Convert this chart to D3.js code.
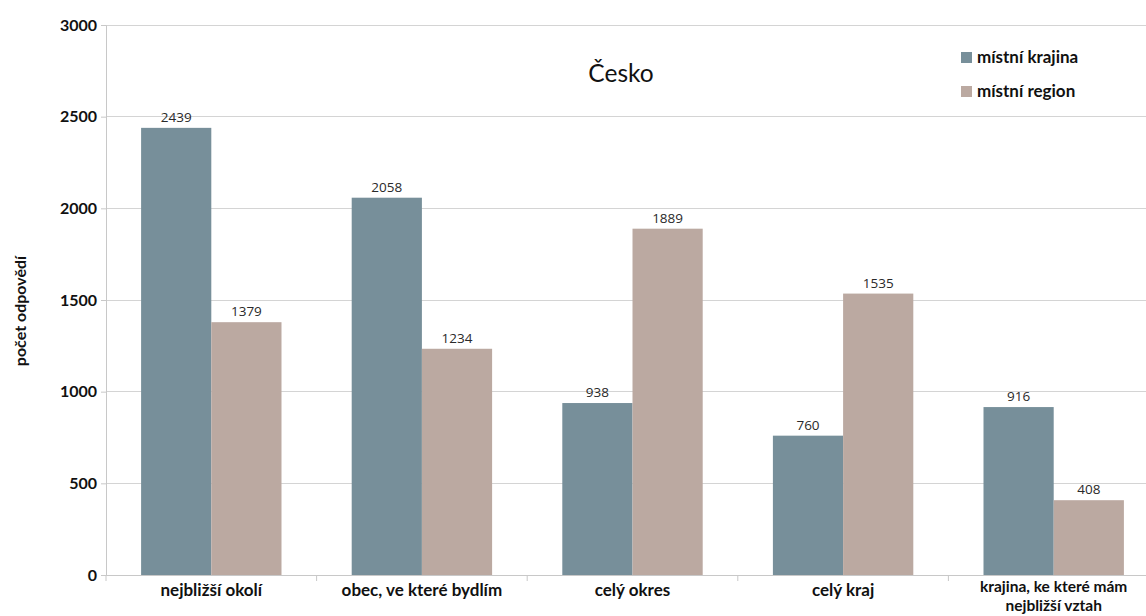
<!DOCTYPE html>
<html><head><meta charset="utf-8">
<script src="https://cdn.jsdelivr.net/npm/d3@7/dist/d3.min.js"></script>
<style>body{margin:0;background:#fff}svg{display:block}</style>
</head><body>
<svg id="c" width="1146" height="616"></svg>
<script>
const categories = ["nejbližší okolí","obec, ve které bydlím","celý okres","celý kraj","krajina, ke které mám\nnejbližší vztah"];
const seriesNames = ["místní krajina","místní region"];
const krajina = [2439,2058,938,760,916];
const region = [1379,1234,1889,1535,408];
const yTicks = [0,500,1000,1500,2000,2500,3000];
const colors = ["#778f9a","#bba9a1"];

const svg = d3.select("#c");
const mLeft = 106, mTop = 25, mBottom = 575, mRight = 1159;
const x0 = d3.scaleBand().domain(d3.range(categories.length)).range([mLeft,mRight]).paddingInner(0).paddingOuter(0);
const x1 = d3.scaleBand().domain([0,1]).range([x0.bandwidth()/6, x0.bandwidth()*5/6]);
const y = d3.scaleLinear().domain([0,3000]).range([mBottom,mTop]);
const font = "Lato, 'Open Sans', sans-serif";

// gridlines
svg.append("g").selectAll("line").data(yTicks.filter(d=>d>0)).join("line")
  .attr("x1",mLeft).attr("x2",1146).attr("y1",d=>y(d)).attr("y2",d=>y(d))
  .attr("stroke","#d4d4d4").attr("stroke-width",1).attr("shape-rendering","crispEdges");

// y axis
const ya = svg.append("g").attr("transform",`translate(${mLeft},0)`)
  .call(d3.axisLeft(y).tickValues(yTicks).tickFormat(d3.format("d")).tickSize(5).tickPadding(4));
ya.select(".domain").attr("stroke","#c8c8c8");
ya.selectAll(".tick line").attr("stroke","#c8c8c8");
ya.selectAll("text").attr("font-family",font).attr("font-weight","bold").attr("font-size","16px").attr("fill","#111");

// bars
const data = categories.map((c,i)=>[krajina[i],region[i]]);
const groups = svg.append("g").selectAll("g").data(data).join("g")
  .attr("transform",(d,i)=>`translate(${x0(i)},0)`);
groups.selectAll("rect").data(d=>d).join("rect")
  .attr("x",(d,j)=>x1(j)).attr("width",x1.bandwidth())
  .attr("y",d=>y(d)).attr("height",d=>mBottom-y(d))
  .attr("fill",(d,j)=>colors[j]);
groups.selectAll("text").data(d=>d).join("text")
  .attr("x",(d,j)=>x1(j)+x1.bandwidth()/2).attr("y",d=>y(d)-6)
  .attr("text-anchor","middle").attr("font-family","'Open Sans', sans-serif")
  .attr("font-size","13.5px").attr("fill","#2a2a2a").text(d=>d);

// x axis
const xa = svg.append("g").attr("transform",`translate(0,${mBottom})`);
xa.append("line").attr("x1",mLeft).attr("x2",1146).attr("y1",0.5).attr("y2",0.5).attr("stroke","#c8c8c8");
xa.selectAll("line.t").data(d3.range(categories.length+1)).join("line").attr("class","t")
  .attr("x1",i=>mLeft+i*x0.bandwidth()).attr("x2",i=>mLeft+i*x0.bandwidth())
  .attr("y1",0).attr("y2",6).attr("stroke","#c8c8c8");
xa.selectAll("g.lab").data(categories).join("g").attr("class","lab")
  .each(function(d,i){
    const g=d3.select(this);
    const lines=d.split("\n");
    const multi=lines.length>1;
    lines.forEach((s,k)=>g.append("text")
      .attr("x",x0(i)+x0.bandwidth()/2)
      .attr("y",multi?17+k*19:21)
      .attr("text-anchor","middle").attr("font-family",font).attr("font-weight","bold")
      .attr("font-size",multi?"15.5px":"17px").attr("fill","#111").text(s));
  });

// y label
svg.append("text").attr("transform","translate(26,311) rotate(-90)")
  .attr("text-anchor","middle").attr("font-family",font).attr("font-weight","bold")
  .attr("font-size","16px").attr("fill","#111").text("počet odpovědí");

// title
svg.append("text").attr("x",621).attr("y",82).attr("text-anchor","middle")
  .attr("font-family",font).attr("font-size","24.5px").attr("fill","#111").text("Česko");

// legend
const lg = svg.append("g").selectAll("g").data(seriesNames).join("g")
  .attr("transform",(d,i)=>`translate(961,${52+i*34})`);
lg.append("rect").attr("width",11).attr("height",11).attr("fill",(d,i)=>colors[i]);
lg.append("text").attr("x",16).attr("y",10.5).attr("font-family",font).attr("font-weight","bold")
  .attr("font-size","17px").attr("fill","#111").text(d=>d);
</script>
</body></html>
